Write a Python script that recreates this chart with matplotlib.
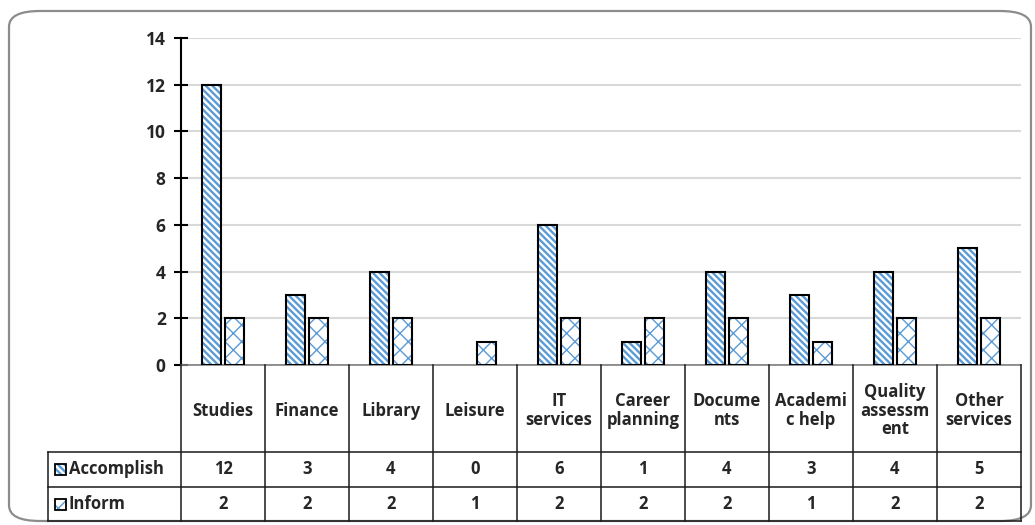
import numpy as np
import matplotlib
matplotlib.use("Agg")
import matplotlib.pyplot as plt
from matplotlib.patches import FancyBboxPatch, Rectangle
from matplotlib.lines import Line2D

plt.rcParams['font.family'] = ['Open Sans', 'DejaVu Sans']
plt.rcParams['font.weight'] = 'bold'

categories = ['Studies', 'Finance', 'Library', 'Leisure', 'IT\nservices',
              'Career\nplanning', 'Docume\nnts', 'Academi\nc help',
              'Quality\nassessm\nent', 'Other\nservices']
accomplish = [12, 3, 4, 0, 6, 1, 4, 3, 4, 5]
inform = [2, 2, 2, 1, 2, 2, 2, 1, 2, 2]
series_names = ['Accomplish', 'Inform']
yticks = [0, 2, 4, 6, 8, 10, 12, 14]

W, H = 1035, 525
BLUE = '#5b9bd5'
TXT = '#262626'
FS = 12

fig = plt.figure(figsize=(W / 100, H / 100), dpi=100)

def fx(px):
    return px / W

def fy(py):
    return 1 - py / H

# plot area
left, right, top, bottom = 181, 1021, 38, 365
ax = fig.add_axes([fx(left), fy(bottom), fx(right - left), fy(top) - fy(bottom)])

# rounded frame around everything
frame = FancyBboxPatch((fx(9), fy(521)), fx(1022), fy(11) - fy(521),
                       boxstyle='round,pad=0,rounding_size=0.03',
                       transform=fig.transFigure, fill=False,
                       edgecolor='#8c8c8c', linewidth=1.6, zorder=0)
fig.patches.append(frame)

x = np.arange(len(categories))
bw = 0.23
off = 0.14
hatches = ['\\' * 5, 'xx']
hatch_lw = [1.7, 1.0]
for vals, sgn, h, hl in [(accomplish, -1, hatches[0], hatch_lw[0]),
                         (inform, 1, hatches[1], hatch_lw[1])]:
    plt.rcParams['hatch.linewidth'] = hl
    ax.bar(x + sgn * off, vals, bw, color='white', edgecolor=BLUE,
           hatch=h, linewidth=0, zorder=3)
    ax.bar(x + sgn * off, vals, bw, color='none', edgecolor='black',
           linewidth=[1.5 if v > 0 else 0 for v in vals], zorder=4)

ax.set_xlim(-0.5, len(categories) - 0.5)
ax.set_ylim(0, 14)
ax.set_yticks(yticks)
ax.set_yticklabels([str(t) for t in yticks], fontsize=12.5, color=TXT,
                   fontweight='bold')
ax.tick_params(axis='y', direction='inout', length=10, width=1.5,
               pad=6, colors='black', labelcolor=TXT)
ax.set_xticks([])
ax.grid(axis='y', color='#d9d9d9', linewidth=1.5, zorder=0)
ax.set_axisbelow(True)
for s in ['top', 'right']:
    ax.spines[s].set_visible(False)
ax.spines['left'].set_linewidth(1.5)
ax.spines['bottom'].set_color('#808080')
ax.spines['bottom'].set_linewidth(1.2)

# data table below the axis
cell_w = (right - left) / len(categories)
row_y = [bottom, 452, 487, 521]
leg_left = 48
lc = '#1a1a1a'
tlines = []
for ry in row_y[1:]:
    tlines.append(((leg_left, right), (ry, ry)))
for i in range(len(categories) + 1):
    xp = left + i * cell_w
    tlines.append(((xp, xp), (bottom, row_y[3])))
tlines.append(((leg_left, leg_left), (row_y[1], row_y[3])))
for xs, ys in tlines:
    fig.add_artist(Line2D([fx(v) for v in xs], [fy(v) for v in ys],
                          color=lc, linewidth=1.1))

for i, cat in enumerate(categories):
    cx = left + (i + 0.5) * cell_w
    fig.text(fx(cx), fy((row_y[0] + row_y[1]) / 2 + 2), cat, ha='center',
             va='center', fontsize=FS, color=TXT, fontweight='bold',
             linespacing=1.05)
    fig.text(fx(cx), fy((row_y[1] + row_y[2]) / 2), str(accomplish[i]),
             ha='center', va='center', fontsize=FS, color=TXT,
             fontweight='bold')
    fig.text(fx(cx), fy((row_y[2] + row_y[3]) / 2), str(inform[i]),
             ha='center', va='center', fontsize=FS, color=TXT,
             fontweight='bold')

# legend keys inside the table
for r, (name, h, hl) in enumerate(zip(series_names, hatches, hatch_lw)):
    yc = (row_y[r + 1] + row_y[r + 2]) / 2
    k = 11
    plt.rcParams['hatch.linewidth'] = hl
    key = Rectangle((fx(55), fy(yc + k / 2)), fx(k), fy(yc - k / 2) - fy(yc + k / 2),
                    transform=fig.transFigure, facecolor='white',
                    edgecolor=BLUE, hatch=h, linewidth=0)
    fig.add_artist(key)
    fig.add_artist(Rectangle((fx(55), fy(yc + k / 2)), fx(k),
                             fy(yc - k / 2) - fy(yc + k / 2),
                             transform=fig.transFigure, fill=False,
                             edgecolor='black', linewidth=1.3))
    fig.text(fx(69), fy(yc), name, ha='left', va='center', fontsize=FS,
             color=TXT, fontweight='bold')

fig.savefig('out.png', dpi=100)
